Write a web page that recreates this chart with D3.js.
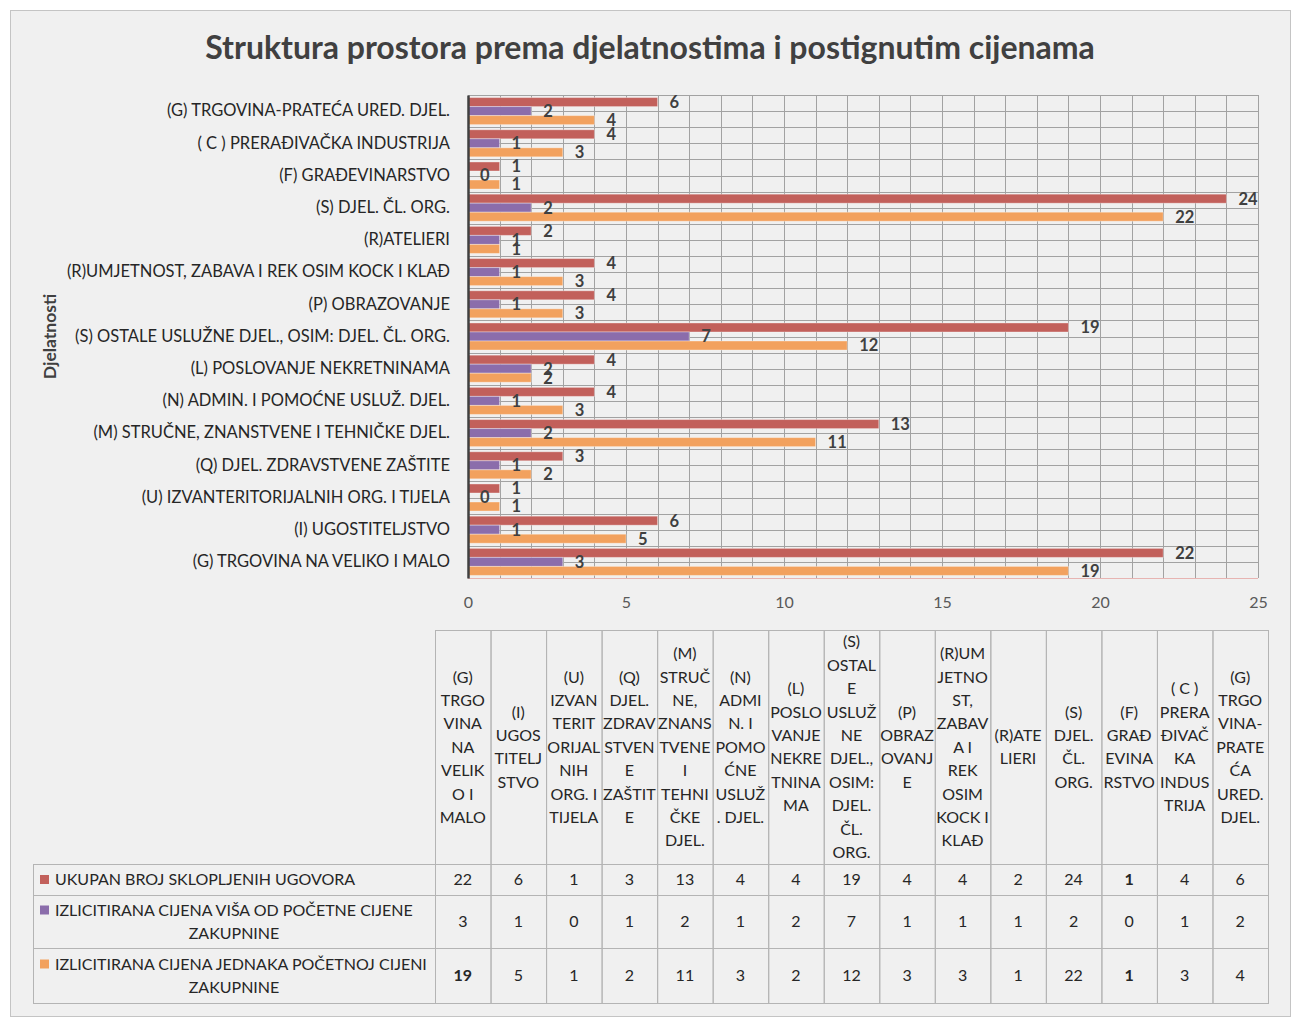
<!DOCTYPE html>
<html lang="hr">
<head>
<meta charset="UTF-8">
<title>Struktura prostora prema djelatnostima</title>
<style>
    body { margin: 0; background: #fff; }
    svg text { font-family: Lato, "Open Sans", sans-serif; }
</style>
</head>
<body>
<script src="https://cdnjs.cloudflare.com/ajax/libs/d3/7.8.5/d3.min.js"></script>
<script>
    // categories, bottom to top in the chart / left to right in the table
    const categories = [
        '(G) TRGOVINA NA VELIKO I MALO',
        '(I) UGOSTITELJSTVO',
        '(U) IZVANTERITORIJALNIH ORG. I TIJELA',
        '(Q) DJEL. ZDRAVSTVENE ZAŠTITE',
        '(M) STRUČNE, ZNANSTVENE I TEHNIČKE DJEL.',
        '(N) ADMIN. I POMOĆNE USLUŽ. DJEL.',
        '(L) POSLOVANJE NEKRETNINAMA',
        '(S) OSTALE USLUŽNE DJEL., OSIM: DJEL. ČL. ORG.',
        '(P) OBRAZOVANJE',
        '(R)UMJETNOST, ZABAVA I REK OSIM KOCK I KLAĐ',
        '(R)ATELIERI',
        '(S) DJEL. ČL. ORG.',
        '(F) GRAĐEVINARSTVO',
        '( C ) PRERAĐIVAČKA INDUSTRIJA',
        '(G) TRGOVINA-PRATEĆA URED. DJEL.'
    ];

    // wrapped header text of the table columns
    const headerLines = [
        ['(G)', 'TRGO', 'VINA', 'NA', 'VELIK', 'O I', 'MALO'],
        ['(I)', 'UGOS', 'TITELJ', 'STVO'],
        ['(U)', 'IZVAN', 'TERIT', 'ORIJAL', 'NIH', 'ORG. I', 'TIJELA'],
        ['(Q)', 'DJEL.', 'ZDRAV', 'STVEN', 'E', 'ZAŠTIT', 'E'],
        ['(M)', 'STRUČ', 'NE,', 'ZNANS', 'TVENE', 'I', 'TEHNI', 'ČKE', 'DJEL.'],
        ['(N)', 'ADMI', 'N. I', 'POMO', 'ĆNE', 'USLUŽ', '. DJEL.'],
        ['(L)', 'POSLO', 'VANJE', 'NEKRE', 'TNINA', 'MA'],
        ['(S)', 'OSTAL', 'E', 'USLUŽ', 'NE', 'DJEL.,', 'OSIM:', 'DJEL.', 'ČL.', 'ORG.'],
        ['(P)', 'OBRAZ', 'OVANJ', 'E'],
        ['(R)UM', 'JETNO', 'ST,', 'ZABAV', 'A I', 'REK', 'OSIM', 'KOCK I', 'KLAĐ'],
        ['(R)ATE', 'LIERI'],
        ['(S)', 'DJEL.', 'ČL.', 'ORG.'],
        ['(F)', 'GRAĐ', 'EVINA', 'RSTVO'],
        ['( C )', 'PRERA', 'ĐIVAČ', 'KA', 'INDUS', 'TRIJA'],
        ['(G)', 'TRGO', 'VINA-', 'PRATE', 'ĆA', 'URED.', 'DJEL.']
    ];

    const seriesNames = [
        'UKUPAN BROJ SKLOPLJENIH UGOVORA',
        'IZLICITIRANA CIJENA VIŠA OD POČETNE CIJENE ZAKUPNINE',
        'IZLICITIRANA CIJENA JEDNAKA POČETNOJ CIJENI ZAKUPNINE'
    ];
    const seriesNameLines = [
        ['UKUPAN BROJ SKLOPLJENIH UGOVORA'],
        ['IZLICITIRANA CIJENA VIŠA OD POČETNE CIJENE', 'ZAKUPNINE'],
        ['IZLICITIRANA CIJENA JEDNAKA POČETNOJ CIJENI', 'ZAKUPNINE']
    ];

    const ukupno = [22, 6, 1, 3, 13, 4, 4, 19, 4, 4, 2, 24, 1, 4, 6];
    const visaCijena = [3, 1, 0, 1, 2, 1, 2, 7, 1, 1, 1, 2, 0, 1, 2];
    const jednakaCijena = [19, 5, 1, 2, 11, 3, 2, 12, 3, 3, 1, 22, 1, 3, 4];

    // table cells that are printed in bold in the source: [row, column]
    const boldCells = [[0, 12], [2, 0], [2, 12]];

    const xTicks = [0, 5, 10, 15, 20, 25];

    const COLORS = ['#c2605b', '#8b6dab', '#f2a15e'];
    const TEXT = '#404040';

    const width = 1295;
    const height = 1019;
    const plot = { left: 468, right: 1258, top: 95, bottom: 578 };
    const table = { left: 33, labelRight: 435, right: 1268, top: 630, headBottom: 864, rows: [864, 895, 948, 1003] };

    const series = [ukupno, visaCijena, jednakaCijena];

    const svg = d3.select('body').append('svg')
        .attr('width', width)
        .attr('height', height);

    svg.append('rect')
        .attr('x', 10.5).attr('y', 10.5)
        .attr('width', 1280).attr('height', 1006)
        .attr('fill', '#f0f0f0')
        .attr('stroke', '#c4c4c4');

    svg.append('text')
        .attr('x', 650).attr('y', 59)
        .attr('text-anchor', 'middle')
        .attr('font-size', 32).attr('font-weight', 'bold')
        .attr('fill', TEXT)
        .text('Struktura prostora prema djelatnostima i postignutim cijenama');

    // scales
    const x = d3.scaleLinear().domain([0, 25]).range([plot.left, plot.right]);
    const y = d3.scaleBand()
        .domain(categories.slice().reverse())
        .range([plot.top, plot.bottom])
        .paddingInner(0.16)
        .paddingOuter(0.08);
    const ySub = d3.scaleBand()
        .domain(d3.range(series.length))
        .range([0, y.bandwidth()]);

    // gridlines
    const grid = svg.append('g').attr('stroke', '#a2a2a2').attr('stroke-width', 1);
    grid.selectAll('.vgrid')
        .data(d3.range(1, 26))
        .join('line')
        .attr('x1', d => Math.round(x(d)) + 0.5)
        .attr('x2', d => Math.round(x(d)) + 0.5)
        .attr('y1', plot.top).attr('y2', plot.bottom);
    const half = y.step() / 2;
    grid.selectAll('.hgrid')
        .data(d3.range(0, categories.length * 2))
        .join('line')
        .attr('x1', plot.left).attr('x2', plot.right)
        .attr('y1', d => Math.round(plot.top + d * half) + 0.5)
        .attr('y2', d => Math.round(plot.top + d * half) + 0.5);

    // bars
    const groups = svg.append('g').selectAll('g')
        .data(categories)
        .join('g')
        .attr('transform', d => `translate(0, ${y(d)})`);

    groups.selectAll('rect')
        .data((d, i) => series.map((s, k) => ({ k, v: s[i] })))
        .join('rect')
        .attr('x', x(0))
        .attr('y', d => ySub(d.k))
        .attr('width', d => x(d.v) - x(0))
        .attr('height', ySub.bandwidth())
        .attr('fill', d => COLORS[d.k])
        .attr('stroke', 'rgba(255,255,255,0.35)')
        .attr('stroke-width', 1);

    groups.selectAll('text')
        .data((d, i) => series.map((s, k) => ({ k, v: s[i] })))
        .join('text')
        .attr('x', d => x(d.v) + 12)
        .attr('y', d => ySub(d.k) + ySub.bandwidth() / 2)
        .attr('dy', '0.36em')
        .attr('font-size', 16.5).attr('font-weight', 'bold')
        .attr('fill', TEXT)
        .text(d => d.v);

    // axes
    svg.append('line')
        .attr('x1', plot.left).attr('x2', plot.right)
        .attr('y1', plot.bottom + 0.5).attr('y2', plot.bottom + 0.5)
        .attr('stroke', '#e7b4b2');

    const yAxis = svg.append('g')
        .attr('transform', `translate(${plot.left}, 0)`)
        .call(d3.axisLeft(y).tickSize(0).tickPadding(18));
    yAxis.select('.domain').attr('stroke', '#404040').attr('stroke-width', 2.5);
    yAxis.selectAll('text')
        .attr('font-size', 16.5)
        .attr('fill', '#262626')
        .style('font-family', 'Lato, sans-serif');

    const xAxis = svg.append('g')
        .attr('transform', `translate(0, ${plot.bottom})`)
        .call(d3.axisBottom(x).tickValues(xTicks).tickSize(0).tickPadding(19));
    xAxis.select('.domain').remove();
    xAxis.selectAll('text')
        .attr('font-size', 16)
        .attr('fill', '#595959')
        .style('font-family', 'Lato, sans-serif');

    svg.append('text')
        .attr('transform', `translate(56, ${(plot.top + plot.bottom) / 2}) rotate(-90)`)
        .attr('text-anchor', 'middle')
        .attr('font-size', 17.5).attr('font-weight', 'bold')
        .attr('fill', TEXT)
        .text('Djelatnosti');

    // data table
    const col = d3.scaleBand()
        .domain(d3.range(categories.length))
        .range([table.labelRight, table.right]);

    const tbl = svg.append('g');
    const lineColor = '#b4b4b4';

    // header cells
    tbl.selectAll('.hcell')
        .data(d3.range(categories.length))
        .join('rect')
        .attr('x', d => col(d) + 0.5)
        .attr('y', table.top + 0.5)
        .attr('width', col.bandwidth())
        .attr('height', table.headBottom - table.top)
        .attr('fill', 'none')
        .attr('stroke', lineColor);

    const lh = 23.4;
    tbl.selectAll('.htext')
        .data(headerLines)
        .join('text')
        .attr('text-anchor', 'middle')
        .attr('font-size', 16)
        .attr('fill', '#262626')
        .each(function (lines, i) {
            const cy = (table.top + table.headBottom) / 2;
            const y0 = cy - (lines.length - 1) * lh / 2;
            d3.select(this).selectAll('tspan')
                .data(lines)
                .join('tspan')
                .attr('x', col(i) + col.bandwidth() / 2)
                .attr('y', (d, j) => y0 + j * lh)
                .attr('dy', '0.36em')
                .text(d => d);
        });

    // body rows
    series.forEach((s, k) => {
        const top = table.rows[k];
        const bottom = table.rows[k + 1];
        const cy = (top + bottom) / 2;
        tbl.append('rect')
            .attr('x', table.left + 0.5).attr('y', top + 0.5)
            .attr('width', table.labelRight - table.left).attr('height', bottom - top)
            .attr('fill', 'none').attr('stroke', lineColor);
        tbl.selectAll(`.vcell${k}`)
            .data(s)
            .join('rect')
            .attr('x', (d, i) => col(i) + 0.5).attr('y', top + 0.5)
            .attr('width', col.bandwidth()).attr('height', bottom - top)
            .attr('fill', 'none').attr('stroke', lineColor);
        tbl.selectAll(`.vtext${k}`)
            .data(s)
            .join('text')
            .attr('x', (d, i) => col(i) + col.bandwidth() / 2)
            .attr('y', cy)
            .attr('dy', '0.36em')
            .attr('text-anchor', 'middle')
            .attr('font-size', 16)
            .attr('font-weight', (d, i) => boldCells.some(c => c[0] === k && c[1] === i) ? 'bold' : 'normal')
            .attr('fill', '#262626')
            .text(d => d);

        const lines = seriesNameLines[k];
        const ly0 = cy - (lines.length - 1) * 23 / 2;
        tbl.append('rect')
            .attr('x', 40).attr('y', ly0 - 4.5)
            .attr('width', 9).attr('height', 9)
            .attr('fill', COLORS[k]);
        const t = tbl.append('text')
            .attr('font-size', 16)
            .attr('fill', '#262626')
            .attr('data-series', seriesNames[k]);
        lines.forEach((ln, j) => {
            t.append('tspan')
                .attr('x', j === 0 ? 55 : (table.left + table.labelRight) / 2)
                .attr('text-anchor', j === 0 ? 'start' : 'middle')
                .attr('y', ly0 + j * 23)
                .attr('dy', '0.36em')
                .text(ln);
        });
    });
</script>
</body>
</html>
